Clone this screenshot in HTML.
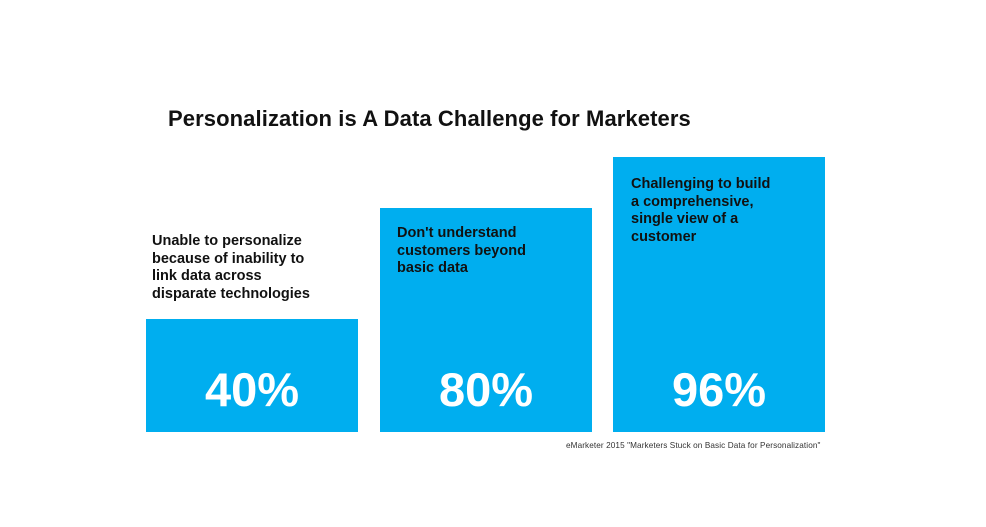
<!DOCTYPE html>
<html><head><style>
body{margin:0;width:986px;height:527px;background:#fff;position:relative;overflow:hidden;font-family:"Liberation Sans",Arial,sans-serif;}
.t{position:absolute;left:168px;top:106px;font-size:22px;font-weight:bold;color:#111;letter-spacing:0.1px;}
.bar{position:absolute;background:#00AEEF;}
.lbl{position:absolute;font-size:14.5px;font-weight:bold;line-height:17.5px;color:#111;}
.pct{position:absolute;width:212px;text-align:center;font-size:47px;font-weight:bold;color:#fff;top:362px;}
.src{position:absolute;left:566px;top:441px;font-size:8.2px;color:#333;letter-spacing:0.1px;}
</style></head><body>
<div class="t">Personalization is A Data Challenge for Marketers</div>
<div class="bar" style="left:146px;top:319px;width:212px;height:113px"></div>
<div class="bar" style="left:380px;top:208px;width:212px;height:224px"></div>
<div class="bar" style="left:613px;top:157px;width:212px;height:275px"></div>
<div class="lbl" style="left:152px;top:233px">Unable to personalize<br>because of inability to<br>link data across<br>disparate technologies</div>
<div class="lbl" style="left:397px;top:225px">Don't understand<br>customers beyond<br>basic data</div>
<div class="lbl" style="left:631px;top:176px">Challenging to build<br>a comprehensive,<br>single view of a<br>customer</div>
<div class="pct" style="left:146px">40%</div>
<div class="pct" style="left:380px">80%</div>
<div class="pct" style="left:613px">96%</div>
<div class="src">eMarketer 2015 "Marketers Stuck on Basic Data for Personalization"</div>
</body></html>
